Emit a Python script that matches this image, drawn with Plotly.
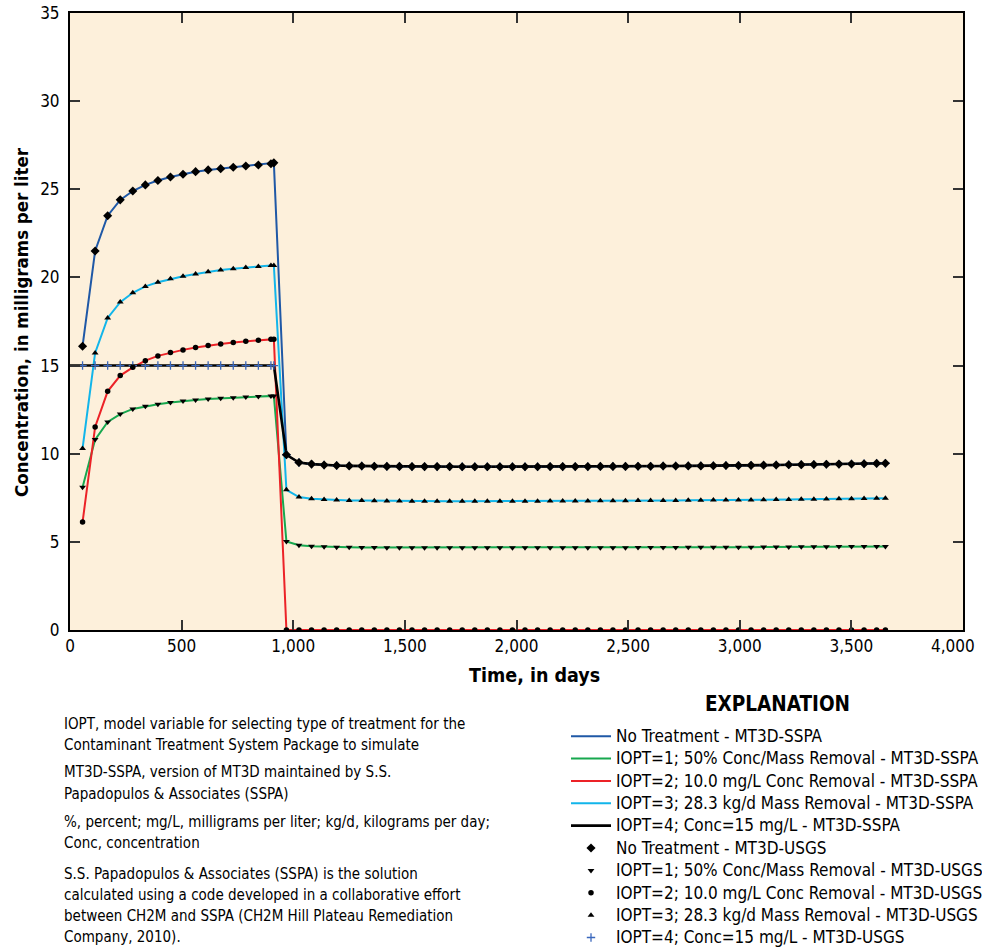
import plotly.graph_objects as go

# Output times (days): first stress period ends at 913.125 d, simulation ends at 3652.5 d
time_days = [
    56.25, 112.5, 168.75, 225, 281.25, 337.5, 393.75, 450, 506.25, 562.5,
    618.75, 675, 731.25, 787.5, 843.75, 900, 913.125,
    969.375, 1025.625, 1081.875, 1138.125, 1194.375, 1250.625, 1306.875,
    1363.125, 1419.375, 1475.625, 1531.875, 1588.125, 1644.375, 1700.625,
    1756.875, 1813.125, 1869.375, 1925.625, 1981.875, 2038.125, 2094.375,
    2150.625, 2206.875, 2263.125, 2319.375, 2375.625, 2431.875, 2488.125,
    2544.375, 2600.625, 2656.875, 2713.125, 2769.375, 2825.625, 2881.875,
    2938.125, 2994.375, 3050.625, 3106.875, 3163.125, 3219.375, 3275.625,
    3331.875, 3388.125, 3444.375, 3500.625, 3556.875, 3613.125, 3652.5,
]

# Concentrations, mg/L
no_treatment = [
    16.1, 21.5, 23.5, 24.4, 24.9, 25.25, 25.5, 25.7, 25.85, 26.0,
    26.1, 26.17, 26.25, 26.32, 26.38, 26.45, 26.5,
    9.94, 9.5, 9.41, 9.36, 9.33, 9.31, 9.3, 9.29, 9.28, 9.28,
    9.27, 9.27, 9.27, 9.27, 9.26, 9.26, 9.26, 9.26, 9.26, 9.26,
    9.26, 9.27, 9.27, 9.27, 9.27, 9.28, 9.28, 9.28, 9.29, 9.29,
    9.3, 9.3, 9.31, 9.31, 9.32, 9.33, 9.33, 9.34, 9.35, 9.36,
    9.37, 9.38, 9.39, 9.4, 9.41, 9.42, 9.43, 9.45, 9.46,
]
iopt1_50pct = [
    8.1, 10.8, 11.8, 12.25, 12.54, 12.69, 12.8, 12.9, 12.99, 13.05,
    13.1, 13.14, 13.18, 13.22, 13.24, 13.27, 13.28,
    5.02, 4.81, 4.75, 4.72, 4.7, 4.69, 4.68, 4.68, 4.67, 4.67,
    4.67, 4.66, 4.66, 4.66, 4.66, 4.66, 4.66, 4.66, 4.66, 4.66,
    4.66, 4.66, 4.66, 4.67, 4.67, 4.67, 4.67, 4.67, 4.68, 4.68,
    4.68, 4.68, 4.69, 4.69, 4.69, 4.7, 4.7, 4.7, 4.71, 4.71,
    4.71, 4.72, 4.72, 4.72, 4.73, 4.73, 4.73, 4.74, 4.74,
]
iopt2_10mgL = [
    6.12, 11.52, 13.54, 14.43, 14.9, 15.28, 15.55, 15.74, 15.89, 16.02,
    16.14, 16.23, 16.31, 16.38, 16.44, 16.49, 16.5,
    0, 0, 0, 0, 0, 0, 0, 0, 0, 0,
    0, 0, 0, 0, 0, 0, 0, 0, 0, 0,
    0, 0, 0, 0, 0, 0, 0, 0, 0, 0,
    0, 0, 0, 0, 0, 0, 0, 0, 0, 0,
    0, 0, 0, 0, 0, 0, 0, 0, 0,
]
iopt3_28kgd = [
    10.3, 15.72, 17.7, 18.6, 19.13, 19.49, 19.73, 19.92, 20.07, 20.2,
    20.32, 20.42, 20.49, 20.57, 20.62, 20.67, 20.68,
    7.95, 7.54, 7.44, 7.4, 7.37, 7.35, 7.34, 7.33, 7.32, 7.32,
    7.31, 7.31, 7.31, 7.31, 7.31, 7.31, 7.31, 7.31, 7.31, 7.31,
    7.31, 7.32, 7.32, 7.32, 7.32, 7.33, 7.33, 7.33, 7.34, 7.34,
    7.35, 7.35, 7.36, 7.36, 7.37, 7.37, 7.38, 7.38, 7.39, 7.4,
    7.4, 7.41, 7.42, 7.43, 7.44, 7.45, 7.46, 7.47, 7.48,
]
iopt4_15mgL = [
    15, 15, 15, 15, 15, 15, 15, 15, 15, 15,
    15, 15, 15, 15, 15, 15, 15,
    9.94, 9.5, 9.41, 9.36, 9.33, 9.31, 9.3, 9.29, 9.28, 9.28,
    9.27, 9.27, 9.27, 9.27, 9.26, 9.26, 9.26, 9.26, 9.26, 9.26,
    9.26, 9.27, 9.27, 9.27, 9.27, 9.28, 9.28, 9.28, 9.29, 9.29,
    9.3, 9.3, 9.31, 9.31, 9.32, 9.33, 9.33, 9.34, 9.35, 9.36,
    9.37, 9.38, 9.39, 9.4, 9.41, 9.42, 9.43, 9.45, 9.46,
]
# The IOPT=4 MT3D-SSPA line is held at the target concentration from time zero
iopt4_start_time = 0
iopt4_start_conc = 15

x_ticks = [0, 500, 1000, 1500, 2000, 2500, 3000, 3500, 4000]
y_ticks = [0, 5, 10, 15, 20, 25, 30, 35]

FONT = "Liberation Sans Narrow, DejaVu Sans Condensed, Arial Narrow, Roboto Condensed, sans-serif"

line_series = [
    ("No Treatment - MT3D-SSPA", time_days, no_treatment, "#1f58a6", 2),
    ("IOPT=1; 50% Conc/Mass Removal - MT3D-SSPA", time_days, iopt1_50pct, "#17a84f", 2),
    ("IOPT=2; 10.0 mg/L Conc Removal - MT3D-SSPA", time_days, iopt2_10mgL, "#ec2227", 2),
    ("IOPT=3; 28.3 kg/d Mass Removal - MT3D-SSPA", time_days, iopt3_28kgd, "#12b5ea", 2),
    ("IOPT=4; Conc=15 mg/L - MT3D-SSPA", [iopt4_start_time] + time_days,
     [iopt4_start_conc] + iopt4_15mgL, "#000000", 2.6),
]

marker_series = [
    ("No Treatment - MT3D-USGS", no_treatment, "diamond", 7, "black"),
    ("IOPT=1; 50% Conc/Mass Removal - MT3D-USGS", iopt1_50pct, "triangle-down", 6, "black"),
    ("IOPT=2; 10.0 mg/L Conc Removal - MT3D-USGS", iopt2_10mgL, "circle", 5.5, "black"),
    ("IOPT=3; 28.3 kg/d Mass Removal - MT3D-USGS", iopt3_28kgd, "triangle-up", 6, "black"),
    ("IOPT=4; Conc=15 mg/L - MT3D-USGS", iopt4_15mgL, "cross-thin", 6, "#3b68bd"),
]


def legend_label(text):
    # larger label text while the legend rows keep a tighter pitch
    return f'<span style="font-size:17px">{text}</span>'


fig = go.Figure()

for rank, (name, xs, ys, color, width) in enumerate(line_series):
    fig.add_trace(go.Scatter(
        x=xs, y=ys, name=legend_label(name), mode="lines",
        line=dict(color=color, width=width),
        legendrank=rank + 1,
    ))

# Plus markers go underneath the other USGS markers
draw_order = [4, 0, 1, 2, 3]
for idx in draw_order:
    name, ys, symbol, size, color = marker_series[idx]
    marker = dict(symbol=symbol, size=size, color=color)
    if symbol == "cross-thin":
        marker["line"] = dict(color=color, width=1.3)
    fig.add_trace(go.Scatter(
        x=time_days, y=ys, name=legend_label(name), mode="markers",
        marker=marker, legendrank=6 + idx,
    ))

axis_common = dict(
    showline=True, linecolor="black", linewidth=2, mirror="ticks",
    ticks="inside", ticklen=10, tickwidth=1.5, tickcolor="#333333",
    showgrid=False, zeroline=False,
    tickfont=dict(family=FONT, size=17, color="black"),
)

# The final x label is set separately so it can sit flush with the page edge
x_ticktext = [f"{v:,}" for v in x_ticks]
last_x_label = x_ticktext[-1]
x_ticktext[-1] = ""

fig.update_xaxes(range=[0, 4000], tickvals=x_ticks, ticktext=x_ticktext,
                 **axis_common)
fig.update_yaxes(range=[0, 35], tickvals=y_ticks, ticklabelstandoff=5,
                 ticktext=[str(v) for v in y_ticks], **axis_common)

# Explanatory notes, one entry per printed line: (centre y in px, text)
note_lines = [
    (724, "IOPT, model variable for selecting type of treatment for the"),
    (745, "Contaminant Treatment System Package to simulate"),
    (772, "MT3D-SSPA, version of MT3D maintained by S.S."),
    (794, "Papadopulos &amp; Associates (SSPA)"),
    (822, "%, percent; mg/L, milligrams per liter; kg/d, kilograms per day;"),
    (843, "Conc, concentration"),
    (874, "S.S. Papadopulos &amp; Associates (SSPA) is the solution"),
    (895, "calculated using a code developed in a collaborative effort"),
    (916, "between CH2M and SSPA (CH2M Hill Plateau Remediation"),
    (937, "Company, 2010)."),
]

W, H = 982, 951
annotations = [
    dict(text="<b>Time, in days</b>", x=534, y=H - 675,
         showarrow=False, font=dict(family=FONT, size=19.5, color="black")),
    dict(text="<b>Concentration, in milligrams per liter</b>", textangle=-90,
         x=21, y=H - 322, font=dict(family=FONT, size=18.5, color="black"),
         showarrow=False),
    dict(text="<b>EXPLANATION</b>", x=777, y=H - 704,
         font=dict(family=FONT, size=20.5, color="black"), showarrow=False),
    dict(text=last_x_label, x=977, y=H - 646, xanchor="right", yanchor="middle",
         showarrow=False, font=dict(family=FONT, size=17, color="black")),
]
for y_mid, text in note_lines:
    annotations.append(dict(
        text=text, x=62, y=H - y_mid, xanchor="left", yanchor="middle",
        align="left", showarrow=False,
        font=dict(family=FONT, size=15, color="black"),
    ))

# Convert pixel positions above into paper coordinates of the plot area
L, R, T, B = 70, 19, 13, 321
pw, ph = W - L - R, H - T - B
for a in annotations:
    a["x"] = (a["x"] - L) / pw
    a["y"] = (a["y"] - B) / ph
    a["xref"] = "paper"
    a["yref"] = "paper"
    if "xanchor" not in a:
        a["xanchor"] = "center"
        a["yanchor"] = "middle"

fig.update_layout(
    width=W, height=H,
    margin=dict(l=L, r=R, t=T, b=B, autoexpand=False),
    paper_bgcolor="white",
    plot_bgcolor="#fdf0db",
    font=dict(family=FONT, color="black"),
    showlegend=True,
    legend=dict(
        x=(566 - L) / pw, y=(H - 720 - B) / ph, xanchor="left", yanchor="top",
        font=dict(family=FONT, size=14.9, color="black"),
        bgcolor="rgba(0,0,0,0)", tracegroupgap=0, itemwidth=40,
    ),
    annotations=annotations,
)

fig.write_html("out.html")
